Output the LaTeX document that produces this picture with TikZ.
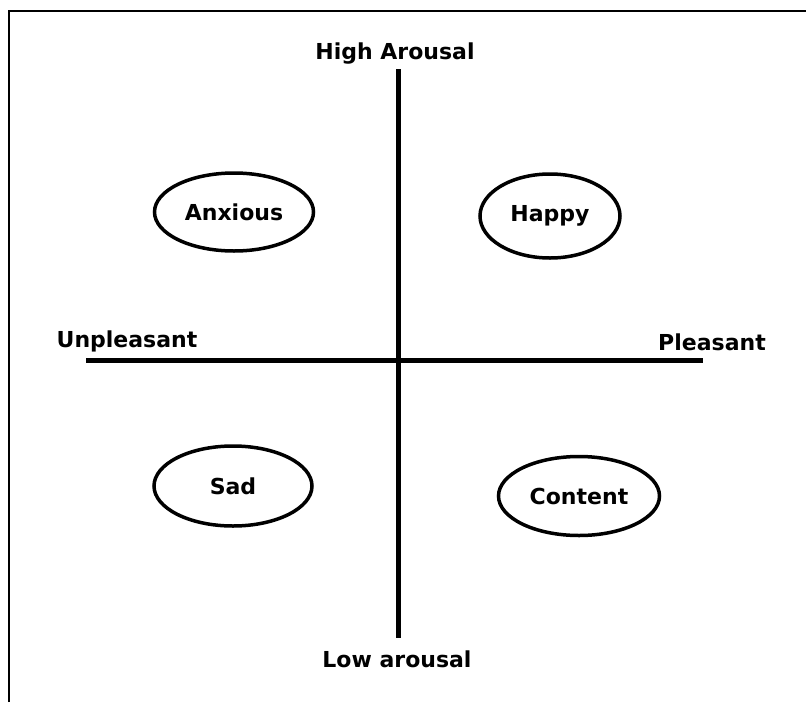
\documentclass[tikz,border=0pt]{standalone}
\usepackage{fontspec}
\setmainfont{DejaVu Sans}
\usetikzlibrary{shapes.geometric}

\begin{document}
\begin{tikzpicture}[
    x=1pt, y=-1pt,
    every node/.style={
      font=\fontsize{22}{26}\selectfont\bfseries,
      inner sep=0pt
    },
    emocion/.style={
      draw,
      ellipse,
      line width=3.5pt
    },
    eje/.style={line width=5pt}
  ]
  \useasboundingbox (0,0) rectangle (806,702);

  % Marco
  \draw[line width=2.5pt] (9,702) -- (9,11) -- (806,11);

  % Ejes
  \coordinate (n) at (398,69);
  \coordinate (s) at (398,638);
  \coordinate (w) at (86,360);
  \coordinate (e) at (703,360);
  \draw[eje] (n) -- (s);
  \draw[eje] (w) -- (e);

  % Etiquetas
  \node (alta) at (395,54) {High Arousal};
  \node (baja) at (397,659) {Low arousal};
  \node (desag) at (127,341) {Unpleasant};
  \node (agrad) at (712,342) {Pleasant};

  % Emociones
  \node[emocion, minimum width=159pt, minimum height=78pt] (anx) at (234,212) {Anxious};
  \node[emocion, minimum width=140pt, minimum height=84pt] (hap) at (550,216) {Happy};
  \node[emocion, minimum width=158pt, minimum height=80pt] (sad) at (233,486) {Sad};
  \node[emocion, minimum width=161pt, minimum height=79pt] (con) at (579,496) {Content};

\end{tikzpicture}
\end{document}
